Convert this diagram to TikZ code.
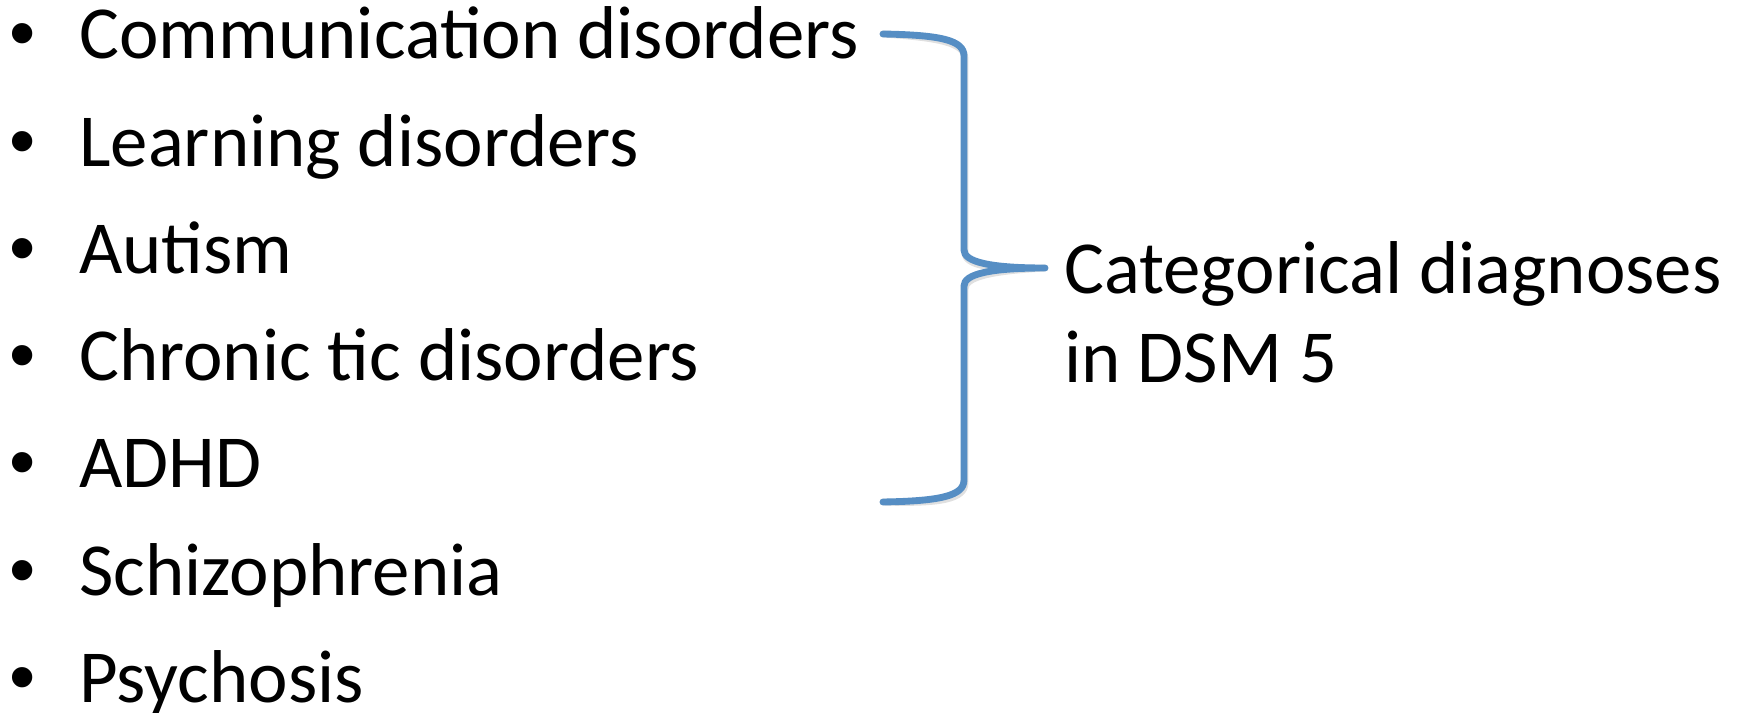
\documentclass[tikz,border=0pt]{standalone}
\usepackage{fontspec}
\setmainfont{Carlito}
\newfontfamily\bulletfont{Liberation Sans}
\definecolor{braceblue}{RGB}{86,142,196}
\tikzset{
  item/.style={anchor=base west, inner sep=0pt, font=\fontsize{42.6}{51}\selectfont},
  bullet/.style={item, font=\bulletfont\fontsize{42.6}{51}\selectfont},
  brace line/.style={draw=braceblue, line width=3.9pt, line cap=round, line join=round},
  brace shadow/.style={draw=black!12, line width=3.9pt, line cap=round, line join=round}
}

\begin{document}
\begin{tikzpicture}[x=0.02cm, y=-0.02cm]
\useasboundingbox (0,0) rectangle (1742,713);

% Bulleted list
\foreach \txt [count=\i] in {Communication disorders, Learning disorders, Autism, Chronic tic disorders, ADHD, Schizophrenia, Psychosis} {
    \node[bullet] (bul\i) at (9, {59+107.2*(\i-1)}) {•};
    \node[item] (item\i) at (79, {59+107.2*(\i-1)}) {\txt};
}

% Label
\node[item] (diag) at (1064,293) {Categorical diagnoses};
\node[item] (dsm) at (1064,382) {in DSM 5};

% Brace
\coordinate (btop) at (883,34);
\coordinate (bbot) at (883,502);
\coordinate (tip) at (1045,268);
\draw[brace shadow, shift={(1,3)}] (btop) .. controls (940,35) and (964,40) .. (964,56) -- (964,250)
    .. controls (964,262) and (990,268) .. (tip) .. controls (990,268) and (964,274) .. (964,286)
    -- (964,480) .. controls (964,496) and (940,501) .. (bbot);
\draw[brace line] (btop) .. controls (940,35) and (964,40) .. (964,56) -- (964,250)
    .. controls (964,262) and (990,268) .. (tip) .. controls (990,268) and (964,274) .. (964,286)
    -- (964,480) .. controls (964,496) and (940,501) .. (bbot);

\end{tikzpicture}
\end{document}
